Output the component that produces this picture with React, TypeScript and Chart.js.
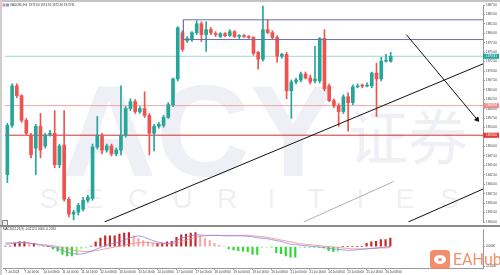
import React, { useEffect, useRef } from "react";
import { Chart, registerables } from "chart.js";
Chart.register(...registerables);

// ---------- data ----------
const opens = [1942.55,1955.61,1966.07,1963.46,1956.92,1953.00,1949.60,1955.35,1950.13,1953.26,
1953.52,1945.16,1950.39,1936.01,1932.10,1932.62,1933.40,1935.75,1936.27,1949.86,
1953.00,1949.08,1950.13,1948.03,1949.08,1953.00,1960.06,1961.89,1959.27,1960.06,
1958.23,1953.52,1955.35,1955.61,1957.70,1961.10,1967.90,1980.18,1978.09,1978.35,
1980.18,1982.53,1979.66,1980.97,1979.92,1979.14,1979.92,1979.40,1980.44,1979.14,
1979.40,1979.14,1978.88,1974.95,1973.13,1980.97,1980.18,1978.88,1973.91,1974.43,
1964.76,1967.11,1967.64,1969.20,1968.16,1967.38,1967.38,1978.61,1966.07,1962.15,
1960.84,1959.27,1963.19,1961.63,1965.81,1966.07,1966.00,1966.07,1969.47,1967.90,
1972.60,1972.60];
const highs = [1956.14,1966.59,1966.59,1963.72,1957.44,1953.52,1955.88,1958.75,1953.52,1954.31,
1959.53,1950.65,1959.53,1936.53,1933.14,1934.97,1936.53,1937.06,1950.65,1957.97,
1953.52,1950.65,1950.65,1949.60,1966.07,1960.58,1962.67,1962.41,1960.58,1964.50,
1958.75,1955.88,1956.40,1958.23,1961.63,1968.16,1981.75,1980.71,1979.14,1980.44,
1983.32,1983.06,1983.06,1981.49,1980.44,1980.18,1980.18,1980.97,1980.71,1979.66,
1979.66,1979.40,1979.14,1975.21,1987.20,1983.58,1980.71,1979.40,1974.69,1974.95,
1967.64,1968.16,1969.73,1969.73,1968.94,1976.52,1978.88,1980.97,1966.59,1962.67,
1961.37,1963.72,1964.24,1966.33,1966.59,1966.59,1966.85,1969.73,1972.08,1973.65,
1974.43,1974.95];
const lows = [1940.46,1955.09,1962.93,1956.40,1953.00,1946.99,1942.55,1946.99,1949.60,1952.74,
1944.38,1944.38,1935.49,1931.32,1930.53,1931.84,1932.88,1935.23,1935.75,1949.34,
1948.03,1948.56,1947.51,1947.51,1947.77,1952.48,1959.53,1958.75,1958.75,1957.70,
1947.77,1948.82,1954.83,1955.09,1957.44,1960.58,1967.38,1975.21,1977.57,1977.83,
1979.66,1977.83,1975.21,1979.66,1979.14,1978.88,1979.14,1979.14,1978.88,1978.61,
1978.88,1978.61,1974.17,1970.51,1972.60,1979.92,1978.35,1972.34,1973.39,1962.67,
1957.44,1966.59,1967.11,1967.90,1966.59,1966.85,1966.85,1964.76,1961.89,1960.32,
1955.35,1958.75,1954.05,1961.10,1965.55,1965.55,1965.81,1965.55,1957.97,1967.38,
1972.34,1972.34];
const closes = [1955.61,1966.07,1963.46,1956.92,1953.52,1947.77,1955.35,1949.08,1953.00,1953.52,
1945.16,1950.13,1936.01,1932.10,1932.62,1934.44,1935.75,1936.53,1949.86,1953.00,
1949.08,1950.13,1948.03,1949.08,1953.00,1960.06,1961.89,1959.27,1960.06,1958.23,
1953.52,1955.35,1955.88,1957.70,1961.10,1967.90,1981.49,1975.74,1978.61,1980.18,
1982.53,1979.66,1980.97,1980.18,1979.66,1979.92,1979.40,1980.44,1979.14,1979.20,
1979.14,1978.88,1974.69,1973.13,1980.97,1980.18,1978.88,1973.91,1974.43,1964.76,
1967.11,1967.64,1969.20,1968.16,1967.11,1967.90,1978.61,1965.28,1962.15,1960.84,
1959.27,1963.19,1961.63,1965.81,1966.07,1966.00,1966.07,1969.47,1967.90,1972.60,
1972.86,1973.91];

const macdLine = [0.5,0.6,0.8,0.9,0.9,0.8,0.6,0.4,0.2,0.1,
-0.1,-0.4,-0.8,-1.2,-1.5,-1.6,-1.6,-1.4,-1.0,-0.6,
-0.2,0.2,0.5,0.7,1.0,1.4,1.8,2.1,2.3,2.1,
1.7,1.3,1.0,0.8,0.7,0.8,1.3,1.8,2.1,2.3,
2.5,2.5,2.4,2.4,2.4,2.4,2.3,2.3,2.3,2.3,
2.3,2.2,2.1,1.9,1.8,1.7,1.5,1.3,1.1,0.8,
0.5,0.4,0.3,0.2,0.1,0.0,-0.1,-0.2,-0.4,-0.5,
-0.6,-0.7,-0.8,-0.8,-0.7,-0.6,-0.5,-0.4,-0.3,-0.2,
-0.1,0.0];
const signalLine = [0.8,0.8,0.8,0.8,0.8,0.7,0.6,0.5,0.4,0.3,
0.2,0.0,-0.2,-0.4,-0.7,-0.9,-1.0,-1.1,-1.0,-0.9,
-0.7,-0.5,-0.3,-0.1,0.1,0.3,0.5,0.7,0.8,0.9,
0.9,0.8,0.7,0.6,0.6,0.6,0.8,1.1,1.4,1.7,
2.0,2.2,2.3,2.4,2.4,2.4,2.4,2.4,2.4,2.4,
2.4,2.4,2.3,2.2,2.1,2.0,1.8,1.6,1.4,1.2,
1.0,0.8,0.6,0.5,0.4,0.3,0.2,0.1,0.0,-0.1,
-0.2,-0.3,-0.4,-0.5,-0.5,-0.5,-0.5,-0.4,-0.4,-0.3,
-0.3,-0.2];
const histogram = [0.1,0.1,0.7,1.0,1.0,0.7,0.7,0.1,0.0,0.0,
-0.5,-1.0,-1.7,-2.0,-2.0,-1.7,-0.4,-0.2,0.1,1.0,
1.8,2.3,2.3,2.3,2.7,2.9,3.0,2.3,1.7,1.3,
1.0,0.7,0.7,0.7,1.0,1.1,2.0,2.5,2.7,2.9,
3.0,2.3,1.7,1.3,0.7,0.3,0.1,-0.5,-0.7,-0.9,
-1.0,-1.1,-1.7,-1.7,-0.2,-0.1,-0.1,-1.3,-1.5,-2.0,
-2.3,-2.3,-0.1,-0.1,-0.1,-0.1,-0.1,-0.3,-0.9,-1.1,
-1.0,0.0,0.0,0.0,0.0,0.0,0.7,1.0,1.1,1.5,
1.5,1.8];

const priceTicks = [1930,1932.5,1935,1937.5,1940,1942.5,1945,1947.5,1950,1952.5,1955,1957.5,
1960,1962.5,1965,1967.5,1970,1972.5,1975,1977.5,1980,1982.5,1985,1987.5];
const indicatorTicks = [0, -4.2];
const xTickIndex = [0,4,8,12,16,20,24,28,32,36,40,44,48,52,56,60,64,68,72,76,80];
const xTickLabels = ["7 Jul 2023","7 Jul 16:00","10 Jul 08:00","11 Jul 00:00","11 Jul 16:00",
"12 Jul 08:00","13 Jul 00:00","13 Jul 16:00","14 Jul 08:00","17 Jul 00:00","17 Jul 16:00",
"18 Jul 08:00","19 Jul 00:00","19 Jul 16:00","20 Jul 08:00","21 Jul 00:00","21 Jul 16:00",
"24 Jul 08:00","25 Jul 00:00","25 Jul 16:00","26 Jul 08:00"];

const levelPrices = [1973.91, 1960.84, 1953.0];
const zoneTop = 1983.58;
const zoneBottom = 1978.35;
const zoneStart = 37.2;
const trendUp = [[20.5, 1930], [100.5, 1971.9]];
const trendDown = [[84.3, 1979.66], [99.25, 1957.18]];
const trendLow = [[84.7, 1930], [100.5, 1938.73]];
const trendGray = [[62.6, 1930], [81.6, 1940.72]];

const titleText = "XAUUSD,H4  1972.60 1974.95 1972.34 1973.91";
const macdTitle = "MACD(12,26,9) -0.0112 0.0000 -0.2034";

// ---------- styles ----------
const X_MIN = -0.5;
const X_MAX = 100.5;
const TEAL = "#26a69a";
const RED = "#ef5350";
const LEVEL_LINE = ["#9fd8cf", "#f3a6a6", "#d32f2f"];
const LEVEL_BOX = ["#26a69a", "#f08c8c", "#e53935"];
const ZONE = "#6d6fae";
const WATERMARK = "#eef0f5";
const FONT = "'Liberation Sans', Arial, sans-serif";

export default function App() {
  const mainRef = useRef<HTMLCanvasElement | null>(null);
  const indRef = useRef<HTMLCanvasElement | null>(null);

  useEffect(() => {
    document.body.style.margin = "0";
    const ids = closes.map((_, i) => i);
    const bull = (i: number) => closes[i] >= opens[i];
    const toPts = (a: number[][]) => a.map(([x, y]) => ({ x, y }));
    const line = (data: any[], color: string, width: number, extra: any = {}) => ({
      type: "line" as const,
      data,
      borderColor: color,
      borderWidth: width,
      pointRadius: 0,
      fill: false,
      tension: 0,
      ...extra,
    });

    const mainDecor = {
      id: "mainDecor",
      beforeDatasetsDraw(chart: any) {
        const { ctx } = chart;
        ctx.save();
        ctx.fillStyle = WATERMARK;
        ctx.textBaseline = "alphabetic";
        ctx.textAlign = "left";
        ctx.font = "bold 130px " + FONT;
        ctx.fillText("ACY", 62, 176);
        ctx.font = "60px 'Noto Sans CJK SC'";
        ctx.fillText("证券", 348, 160);
        ctx.font = "28px " + FONT;
        ctx.textAlign = "center";
        const word = "SECURITIES";
        for (let k = 0; k < word.length; k++) ctx.fillText(word[k], 49 + k * 44.5, 208);
        ctx.restore();
      },
      afterDraw(chart: any) {
        const { ctx, scales } = chart;
        ctx.save();
        ctx.font = "3px " + FONT;
        ctx.textBaseline = "middle";
        ctx.textAlign = "left";
        levelPrices.forEach((p, k) => {
          const y = scales.y.getPixelForValue(p);
          ctx.fillStyle = LEVEL_BOX[k];
          ctx.fillRect(483, y - 2.5, 16, 5);
          ctx.fillStyle = "#fff";
          ctx.fillText(p.toFixed(2), 486, y);
        });
        ctx.fillStyle = "#333";
        ctx.fillText(titleText, 10, 5);
        ctx.fillStyle = "#e88";
        ctx.fillRect(2.5, 3.5, 3, 3);
        ctx.fillStyle = "#7aa0d8";
        ctx.fillRect(6, 3.5, 3, 3);
        ctx.restore();
      },
    };

    const xBase = {
      type: "linear",
      min: X_MIN,
      max: X_MAX,
      offset: false,
      bounds: "ticks",
    };

    const main = new Chart(mainRef.current as HTMLCanvasElement, {
      type: "bar",
      data: {
        datasets: [
          line(toPts(trendDown), "#111", 1, {
            pointRadius: (c: any) => (c.dataIndex === 1 ? 2.5 : 0),
            pointStyle: "triangle",
            rotation: 140,
            pointBackgroundColor: "#111",
            pointBorderColor: "#111",
          }),
          line(toPts(trendUp), "#111", 1),
          line(toPts(trendLow), "#111", 1),
          line(toPts(trendGray), "#9a9a9a", 0.8),
          line(
            [
              { x: X_MAX, y: zoneTop },
              { x: zoneStart, y: zoneTop },
              { x: zoneStart, y: zoneBottom },
              { x: X_MAX, y: zoneBottom },
            ],
            ZONE,
            1
          ),
          {
            type: "bar" as const,
            data: ids.map((i) => ({ x: i, y: [opens[i], closes[i]] })),
            backgroundColor: (c: any) => (bull(c.dataIndex) ? TEAL : RED),
            barThickness: 3,
            minBarLength: 1,
            grouped: false,
          },
          {
            type: "bar" as const,
            data: ids.map((i) => ({ x: i, y: [lows[i], highs[i]] })),
            backgroundColor: (c: any) => (bull(c.dataIndex) ? TEAL : RED),
            barThickness: 1,
            grouped: false,
          },
          ...levelPrices.map((p, k) =>
            line([{ x: X_MIN, y: p }, { x: X_MAX, y: p }], LEVEL_LINE[k], 1)
          ),
        ] as any,
      },
      options: {
        responsive: false,
        animation: false,
        devicePixelRatio: 1,
        layout: { padding: { left: 3, top: 5, right: 0, bottom: 2 } },
        plugins: { legend: { display: false }, tooltip: { enabled: false } },
        scales: {
          x: {
            ...xBase,
            display: true,
            ticks: { display: false },
            grid: { display: false, offset: false },
            border: { display: false },
            afterFit: (s: any) => {
              s.height = 0;
            },
          },
          y: {
            position: "right",
            min: 1930,
            max: 1987.5,
            afterFit: (s: any) => {
              s.width = 17;
            },
            afterBuildTicks: (s: any) => {
              s.ticks = priceTicks.map((v) => ({ value: v }));
            },
            ticks: {
              autoSkip: false,
              font: { size: 3, family: FONT },
              color: "#333",
              padding: 1,
              callback: (v: any) => Number(v).toFixed(2),
            },
            grid: { drawOnChartArea: false, tickLength: 2, color: "#999" },
            border: { color: "#999" },
          },
        },
      } as any,
      plugins: [mainDecor],
    });

    const indDecor = {
      id: "indDecor",
      afterDraw(chart: any) {
        const { ctx } = chart;
        ctx.save();
        ctx.font = "3px " + FONT;
        ctx.textBaseline = "middle";
        ctx.fillStyle = "#333";
        ctx.fillText(macdTitle, 3, 2.5);
        ctx.restore();
      },
    };

    const ind = new Chart(indRef.current as HTMLCanvasElement, {
      type: "bar",
      data: {
        datasets: [
          line(ids.map((i) => ({ x: i, y: macdLine[i] })), "#8a86e6", 0.8),
          line(ids.map((i) => ({ x: i, y: signalLine[i] })), "#ee8a8a", 0.8),
          {
            type: "bar" as const,
            data: ids.map((i) => ({ x: i, y: histogram[i] })),
            backgroundColor: (c: any) => {
              const i = c.dataIndex;
              const v = histogram[i];
              const p = i > 0 ? histogram[i - 1] : 0;
              if (v >= 0) return v >= p ? "#c62828" : "#f3a9a9";
              return v <= p ? "#2fd82f" : "#8be88b";
            },
            barThickness: 1.5,
            grouped: false,
          },
        ] as any,
      },
      options: {
        responsive: false,
        animation: false,
        devicePixelRatio: 1,
        layout: { padding: { left: 3, top: 1, right: 0, bottom: 0 } },
        plugins: { legend: { display: false }, tooltip: { enabled: false } },
        scales: {
          x: {
            ...xBase,
            afterFit: (s: any) => {
              s.height = 7;
            },
            afterBuildTicks: (s: any) => {
              s.ticks = xTickIndex.map((v) => ({ value: v }));
            },
            ticks: {
              autoSkip: false,
              maxRotation: 0,
              align: "start",
              padding: 0,
              font: { size: 3, family: FONT },
              color: "#333",
              callback: (v: any) => xTickLabels[xTickIndex.indexOf(Number(v))] ?? "",
            },
            grid: { drawOnChartArea: false, tickLength: 2, color: "#999", offset: false },
            border: { color: "#999" },
          },
          y: {
            position: "right",
            min: -4.6,
            max: 3.6,
            afterFit: (s: any) => {
              s.width = 17;
            },
            afterBuildTicks: (s: any) => {
              s.ticks = indicatorTicks.map((v) => ({ value: v }));
            },
            ticks: {
              autoSkip: false,
              font: { size: 3, family: FONT },
              color: "#333",
              padding: 1,
              callback: (v: any) => Number(v).toFixed(4),
            },
            grid: { drawOnChartArea: false, tickLength: 2, color: "#999" },
            border: { color: "#999" },
          },
        },
      } as any,
      plugins: [indDecor],
    });

    return () => {
      main.destroy();
      ind.destroy();
    };
  }, []);

  return (
    <div
      style={{
        position: "relative",
        width: 500,
        height: 275,
        background: "#fff",
        overflow: "hidden",
      }}
    >
      <canvas ref={mainRef} width={500} height={227} style={{ display: "block", width: 500, height: 227 }} />
      <canvas ref={indRef} width={500} height={48} style={{ display: "block", width: 500, height: 48 }} />
      <div style={{ position: "absolute", left: 0, top: 0, width: 500, height: 2, background: "#c4c4c4" }} />
      <div style={{ position: "absolute", left: 0, top: 0, width: 2, height: 275, background: "#cfcfcf" }} />
      <div style={{ position: "absolute", left: 0, top: 225, width: 500, height: 1.5, background: "#8a8a8a" }} />
      <div
        style={{
          position: "absolute",
          left: 2,
          top: 220,
          width: 4,
          height: 4,
          border: "0.5px solid #888",
          background: "#eee",
        }}
      />
      <div
        style={{
          position: "absolute",
          left: 430,
          top: 250,
          width: 20,
          height: 19,
          borderRadius: 4,
          background: "#f3845f",
          opacity: 0.92,
        }}
      >
        <div
          style={{
            position: "absolute",
            left: 4,
            top: 5,
            width: 12,
            height: 9,
            borderRadius: "50%",
            background: "#fff",
          }}
        />
        <div style={{ position: "absolute", left: 8, top: 8, width: 4, height: 3, borderRadius: "50%", background: "#f3845f" }} />
      </div>
      <div
        style={{
          position: "absolute",
          left: 453,
          top: 250,
          fontFamily: "Roboto, sans-serif",
          fontSize: 16,
          lineHeight: "19px",
          color: "#f3845f",
          opacity: 0.92,
        }}
      >
        EAHub
      </div>
    </div>
  );
}
